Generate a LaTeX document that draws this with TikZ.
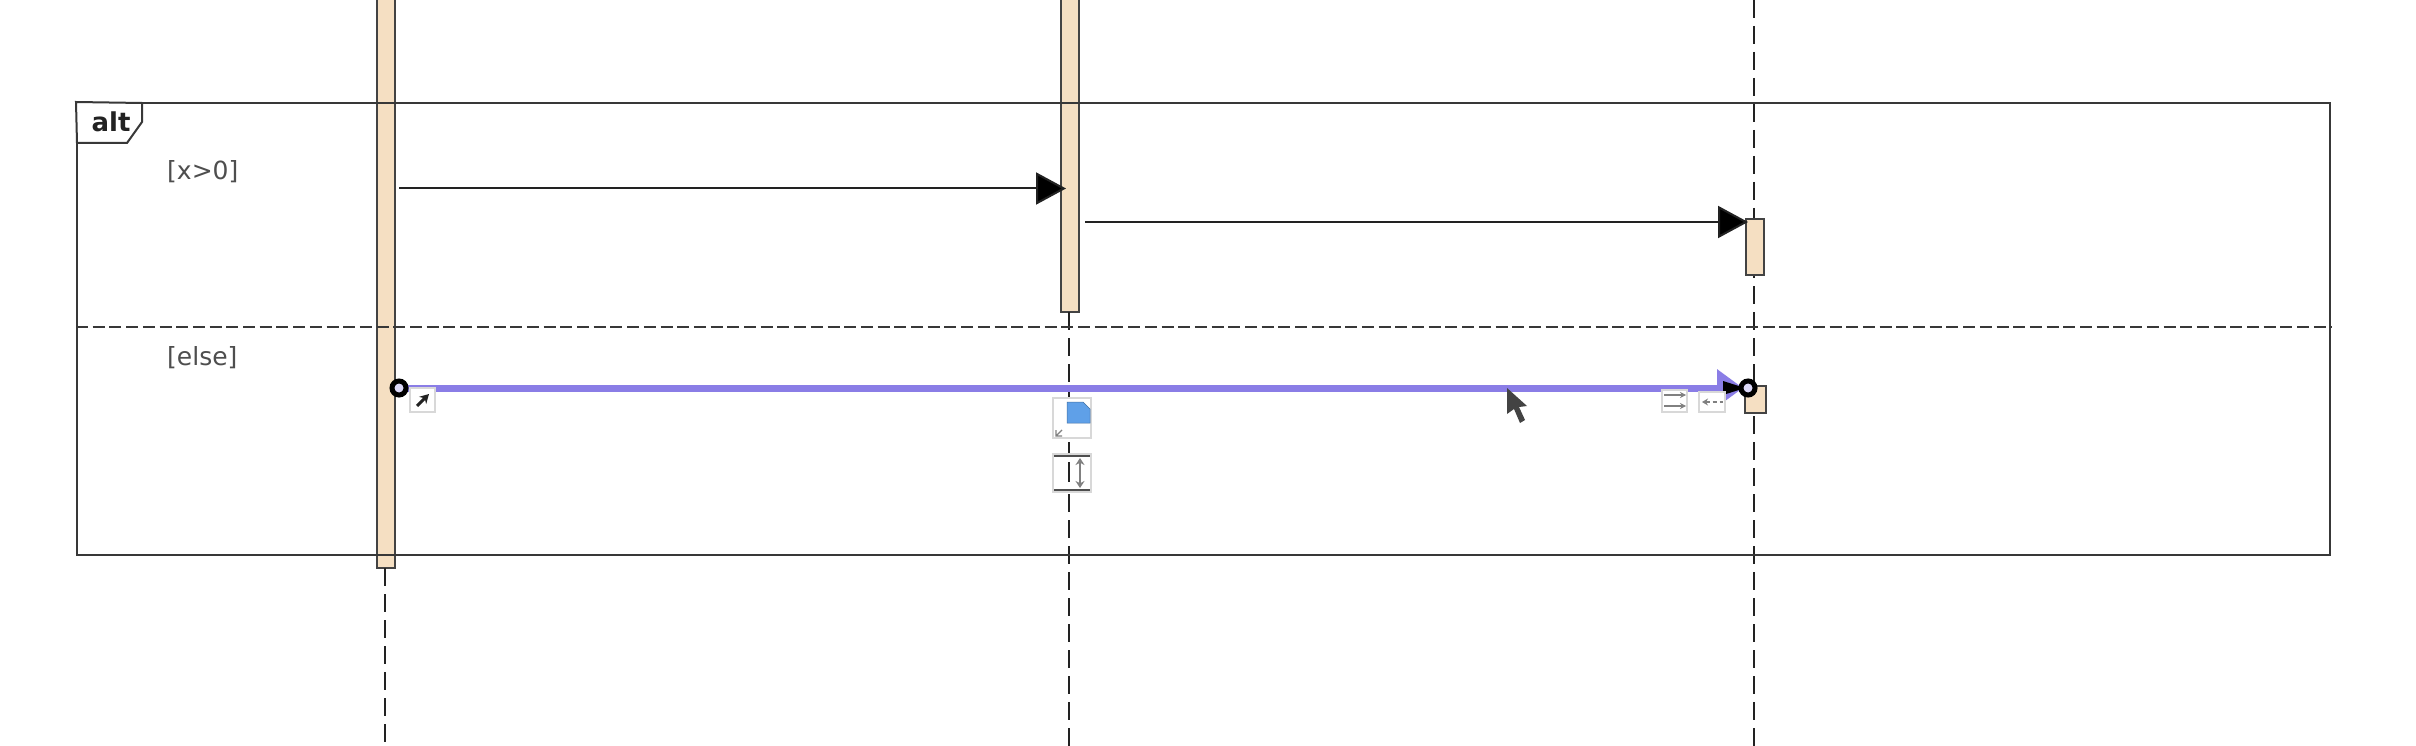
\documentclass[tikz,border=0pt]{standalone}
\usepackage{fontspec}
\setmainfont{DejaVu Sans}
\usetikzlibrary{arrows.meta}
\definecolor{actfill}{HTML}{F5DFC2}
\definecolor{sel}{HTML}{8A7DE6}
\definecolor{icon}{HTML}{D8D8D8}
\definecolor{ink}{HTML}{222222}
\definecolor{note}{HTML}{5FA0E8}
\tikzset{
  x=1pt,y=-1pt,
  actbar/.style={draw=ink!85,line width=2pt,fill=actfill,rectangle,inner sep=0pt,outer sep=0pt},
  lifeline/.style={draw=ink,line width=1.8pt,dash pattern=on 18pt off 8pt},
  framebox/.style={draw=ink!90,line width=2pt},
  msg/.style={draw=ink,line width=2pt,-{Triangle[length=30pt,width=32pt,fill=black]}},
  guard/.style={font=\fontsize{25}{28}\selectfont,text=ink!80,inner sep=0pt,anchor=west},
  iconbox/.style={draw=icon,line width=1.2pt,fill=white,rectangle,inner sep=0pt},
  ring/.style={circle,draw=black,line width=5pt,fill=white!70!sel,minimum size=14pt,inner sep=0pt},
}
\begin{document}
\begin{tikzpicture}
\useasboundingbox (0,0) rectangle (2416,746);
\clip (0,0) rectangle (2416,746);
\fill[white] (0,0) rectangle (2416,746);
% lifelines
\coordinate (l1e) at (385,746);
\coordinate (l2e) at (1069,746);
\coordinate (l3s) at (1754,0);
\coordinate (l3e) at (1754,746);
% activations
\node[actbar,minimum width=18pt,minimum height=588pt] (a1) at (386,274) {};
\node[actbar,minimum width=18pt,minimum height=332pt] (a2) at (1070,146) {};
\draw[lifeline] (l3s) -- (l3e);
\draw[lifeline] (a1.south -| l1e) -- (l1e);
\draw[lifeline] (a2.south -| l2e) -- (l2e);
\node[actbar,minimum width=18pt,minimum height=56pt] (a3) at (1754.5,247) {};
\node[actbar,minimum width=21pt,minimum height=27pt] (a4) at (1755.5,399.5) {};
% frame
\node[framebox,rectangle,inner sep=0pt,minimum width=2253pt,minimum height=452pt] (frame) at (1203.5,329) {};
\draw[framebox,dash pattern=on 12pt off 4.7pt] (frame.west |- 0,327) coordinate (sepl) -- (frame.east |- 0,327) coordinate (sepr);
\draw[framebox,fill=white] (frame.north west) -- (142,103) -- (142,122) -- (127,143) -- (77,143) -- cycle;
\node[font=\fontsize{26}{28}\selectfont\bfseries,text=ink,inner sep=0pt] (altlab) at (111,122) {alt};
\node[guard] (g1) at (167,172) {[x>0]};
\node[guard] (g2) at (167,358) {[else]};
% messages
\coordinate (m1s) at (399,188.5);
\coordinate (m1e) at (1066,188.5);
\coordinate (m2s) at (1085,222);
\coordinate (m2e) at (1748,222);
\draw[msg] (m1s) -- (m1e);
\draw[msg] (m2s) -- (m2e);
% selected message
\coordinate (m3s) at (399,388);
\coordinate (m3e) at (1743,388);
\draw[draw=sel,line width=7pt,-{Triangle[length=26pt,width=36pt,fill=sel]}] (m3s) -- (m3e);
\fill[black] (1723,381) -- (1745,388) -- (1723,395) -- cycle;
\node[ring] (h1) at (399,388) {};
\node[ring] (h2) at (1748,388) {};
% handle icons
\node[iconbox,minimum width=25pt,minimum height=24pt] (ic1) at (422.5,400) {};
\draw[ink,line width=3pt,-{Stealth[length=9pt,width=10pt]}] (417,406) -- (429,394);
\node[iconbox,minimum width=25pt,minimum height=22pt] (ic2) at (1674.5,401) {};
\draw[gray,line width=1.6pt,-{Stealth[length=6pt,width=6pt]}] (1664,395) -- (1686,395);
\draw[gray,line width=1.6pt,-{Stealth[length=6pt,width=6pt]}] (1664,406) -- (1686,406);
\node[iconbox,minimum width=26pt,minimum height=20pt] (ic3) at (1712,402) {};
\draw[gray,line width=1.4pt,dash pattern=on 4pt off 3pt,{Stealth[length=6pt,width=7pt]}-] (1702,402) -- (1723,402);
\node[iconbox,minimum width=38pt,minimum height=40pt] (ic4) at (1072,418) {};
\fill[note,draw=note!70!black,line width=.5pt] (1067,402) -- (1083,402) -- (1090,409) -- (1090,423) -- (1067,423) -- cycle;
\draw[gray,line width=1.2pt] (1056,436) -- (1062,430) (1056,430) -- (1056,436) -- (1062,436);
\node[iconbox,minimum width=38pt,minimum height=38pt] (ic5) at (1072,473) {};
\draw[ink!80,line width=2pt] (1054,456) -- (1090,456) (1054,490) -- (1090,490);
\draw[gray,line width=1.4pt,{Stealth[length=7pt,width=9pt]}-{Stealth[length=7pt,width=9pt]}] (1080,458) -- (1080,488);
\draw[ink,line width=1.8pt] (1069,462) -- (1069,482);
% cursor
\fill[ink!85] (1507,388) -- (1507,414) -- (1514,409) -- (1520,423) -- (1525,420) -- (1519,407) -- (1527,406) -- cycle;
\end{tikzpicture}
\end{document}
